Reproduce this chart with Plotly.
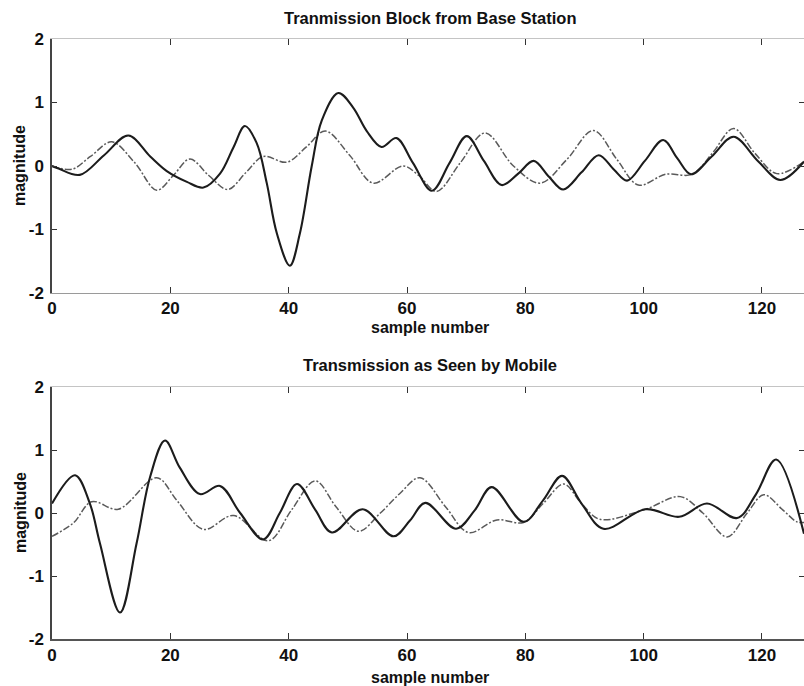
import plotly.graph_objects as go

# ---- data: sample index / magnitude pairs for each trace ----
top_solid_x = [0, 1.1, 4.7, 8.8, 12.9, 16.6, 19.4, 22.8, 25.6, 28.4, 30.7, 32.6, 34.6, 36.3, 38.0,
               40.2, 41.9, 43.9, 45.6, 48.4, 50.9, 53.2, 55.7, 58.2, 61.0, 64.2, 67.2, 70.1, 73.0,
               76.0, 78.8, 81.4, 84.0, 86.4, 89.5, 92.4, 95.0, 97.2, 100.2, 103.3, 105.7, 108.0,
               111.5, 115.2, 119.3, 123.1, 127.1]
top_solid_y = [0, -0.04, -0.14, 0.17, 0.48, 0.15, -0.08, -0.25, -0.34, -0.12, 0.30, 0.63, 0.36, -0.27,
               -1.06, -1.57, -1.06, 0.0, 0.72, 1.15, 0.92, 0.55, 0.30, 0.44, 0.05, -0.39, 0.05, 0.47,
               0.08, -0.30, -0.12, 0.08, -0.17, -0.37, -0.10, 0.17, -0.06, -0.23, 0.08, 0.41, 0.12,
               -0.13, 0.15, 0.46, 0.08, -0.22, 0.07]

top_dash_x = [0, 3.4, 6.5, 10.1, 14.0, 17.7, 20.5, 23.3, 26.5, 29.7, 32.8, 35.7, 39.7, 43.0, 46.2,
              50.3, 54.3, 59.3, 62.0, 65.0, 69.0, 73.2, 78.0, 82.5, 87.0, 91.5, 95.5, 99.1, 103.7,
              108.2, 111.6, 115.2, 118.8, 122.5, 127.1]
top_dash_y = [0, -0.05, 0.15, 0.38, 0.05, -0.38, -0.15, 0.11, -0.15, -0.37, -0.10, 0.15, 0.06, 0.30,
              0.55, 0.17, -0.27, 0.0, -0.15, -0.40, 0.05, 0.52, 0.0, -0.27, 0.10, 0.56, 0.10, -0.30,
              -0.13, -0.13, 0.20, 0.59, 0.20, -0.12, 0.07]

bot_solid_x = [0, 3.9, 6.4, 8.1, 11.5, 14.3, 16.6, 19.1, 21.6, 25.0, 28.4, 31.8, 35.7, 38.5, 41.4,
               44.5, 47.3, 52.5, 57.7, 60.5, 63.1, 68.3, 71.5, 74.3, 79.7, 83.0, 86.2, 89.5, 93.2,
               100.3, 106.0, 110.7, 115.8, 119.0, 122.4, 127.1]
bot_solid_y = [0.15, 0.60, 0.15, -0.48, -1.58, -0.48, 0.58, 1.15, 0.72, 0.30, 0.43, 0.0, -0.42, 0.0,
               0.46, 0.05, -0.31, 0.06, -0.37, -0.12, 0.16, -0.25, 0.05, 0.41, -0.14, 0.20, 0.59,
               0.15, -0.25, 0.06, -0.06, 0.15, -0.08, 0.30, 0.85, -0.33]

bot_dash_x = [0, 3.6, 6.7, 11.2, 17.7, 21.1, 25.6, 30.7, 36.6, 40.5, 44.5, 48.0, 51.8, 55.5, 58.8,
              62.2, 66.5, 70.4, 75.2, 79.7, 83.0, 86.5, 89.5, 92.6, 100.3, 106.2, 110.0, 114.1,
              117.5, 120.3, 123.5, 125.9, 127.1]
bot_dash_y = [-0.37, -0.16, 0.18, 0.06, 0.56, 0.20, -0.26, -0.04, -0.44, 0.05, 0.51, 0.10, -0.29, 0.0,
              0.31, 0.56, 0.10, -0.31, -0.11, -0.15, 0.15, 0.46, 0.15, -0.10, 0.06, 0.26, 0.0, -0.38,
              0.0, 0.29, 0.05, -0.14, -0.15]

x_ticks = [0, 20, 40, 60, 80, 100, 120]
y_ticks = [-2, -1, 0, 1, 2]
y_tick_text = [str(v) for v in y_ticks]
titles = ["Tranmission Block from Base Station", "Transmission as Seen by Mobile"]
x_label = "sample number"
y_label = "magnitude"

W, H = 804, 686
L = 52
X_RANGE = [0, 127.1]
Y_RANGE = [-2, 2]
TOP_DOM = [1 - 293 / H, 1 - 39 / H]
BOT_DOM = [1 - 639 / H, 1 - 387 / H]

FONT = "Liberation Sans, Arial, sans-serif"
INK = "#111111"
SOLID = dict(color="#1c1c1c", width=2.1, shape="spline", smoothing=1.0)
DASH = dict(color="#5a5a5a", width=1.5, shape="spline", smoothing=1.0, dash="7px,2px,2px,2px")

fig = go.Figure()
panels = [
    (top_solid_x, top_solid_y, top_dash_x, top_dash_y, "x", "y"),
    (bot_solid_x, bot_solid_y, bot_dash_x, bot_dash_y, "x2", "y2"),
]
for sx, sy, dx, dy, xa, ya in panels:
    fig.add_trace(go.Scatter(x=dx, y=dy, mode="lines", line=DASH, xaxis=xa, yaxis=ya,
                             showlegend=False, hoverinfo="skip"))
    fig.add_trace(go.Scatter(x=sx, y=sy, mode="lines", line=SOLID, xaxis=xa, yaxis=ya,
                             showlegend=False, hoverinfo="skip"))

tick_font = dict(family=FONT, size=17, color=INK, weight="bold")


def xaxis(anchor, color, width, labels=True, **kw):
    return dict(range=X_RANGE, domain=[0, 1], anchor=anchor, tickvals=x_ticks,
                ticks="inside", ticklen=6, tickwidth=1, tickcolor="#333",
                showline=True, linecolor=color, linewidth=width, showgrid=False,
                zeroline=False, showticklabels=labels, tickfont=tick_font,
                automargin=False, fixedrange=True, **kw)


def yaxis(anchor, dom, color, labels=True, **kw):
    return dict(range=Y_RANGE, domain=dom, anchor=anchor, tickvals=y_ticks,
                ticktext=y_tick_text,
                ticks="inside", ticklen=5, tickwidth=1, tickcolor="#333",
                showline=True, linecolor=color, linewidth=1.5, showgrid=False,
                zeroline=False, showticklabels=labels, tickfont=tick_font,
                ticklabelstandoff=3, automargin=False, fixedrange=True, **kw)


fig.update_layout(
    width=W, height=H,
    margin=dict(l=L, r=0, t=0, b=0),
    paper_bgcolor="white", plot_bgcolor="white",
    font=dict(family=FONT, color=INK),
    # upper panel
    xaxis=xaxis("y", "#9a9a9a", 1),
    yaxis=yaxis("x", TOP_DOM, "#444444"),
    xaxis3=xaxis("y", "#c4c4c4", 1, labels=False, overlaying="x", side="top"),
    yaxis3=yaxis("x", TOP_DOM, "rgba(0,0,0,0)", labels=False, overlaying="y", side="right"),
    # lower panel
    xaxis2=xaxis("y2", "#555555", 1.6),
    yaxis2=yaxis("x2", BOT_DOM, "#444444"),
    xaxis4=xaxis("y2", "#c4c4c4", 1, labels=False, overlaying="x2", side="top"),
    yaxis4=yaxis("x2", BOT_DOM, "rgba(0,0,0,0)", labels=False, overlaying="y2", side="right"),
)

# frame-only axes need a (blank) trace to be drawn
for xa, ya in (("x3", "y3"), ("x4", "y4")):
    fig.add_trace(go.Scatter(x=[], y=[], xaxis=xa, yaxis=ya, showlegend=False, hoverinfo="skip"))

cx = (430 - L) / (W - L)
text_font = dict(family=FONT, size=16.5, color=INK, weight="bold")
label_font = dict(family=FONT, size=16, color=INK, weight="bold")
ann = []
for title, ty, ly, ymid in ((titles[0], 18, 328, 166), (titles[1], 365, 677, 513)):
    ann.append(dict(text=title, x=cx, y=1 - ty / H, xref="paper", yref="paper",
                    xanchor="center", yanchor="middle", showarrow=False, font=text_font))
    ann.append(dict(text=x_label, x=cx, y=1 - ly / H, xref="paper", yref="paper",
                    xanchor="center", yanchor="middle", showarrow=False, font=label_font))
    ann.append(dict(text=y_label, x=-(L - 20) / (W - L), y=1 - ymid / H, xref="paper",
                    yref="paper", xanchor="center", yanchor="middle", textangle=-90,
                    showarrow=False, font=label_font))
fig.update_layout(annotations=ann)

fig.write_html("out.html")
